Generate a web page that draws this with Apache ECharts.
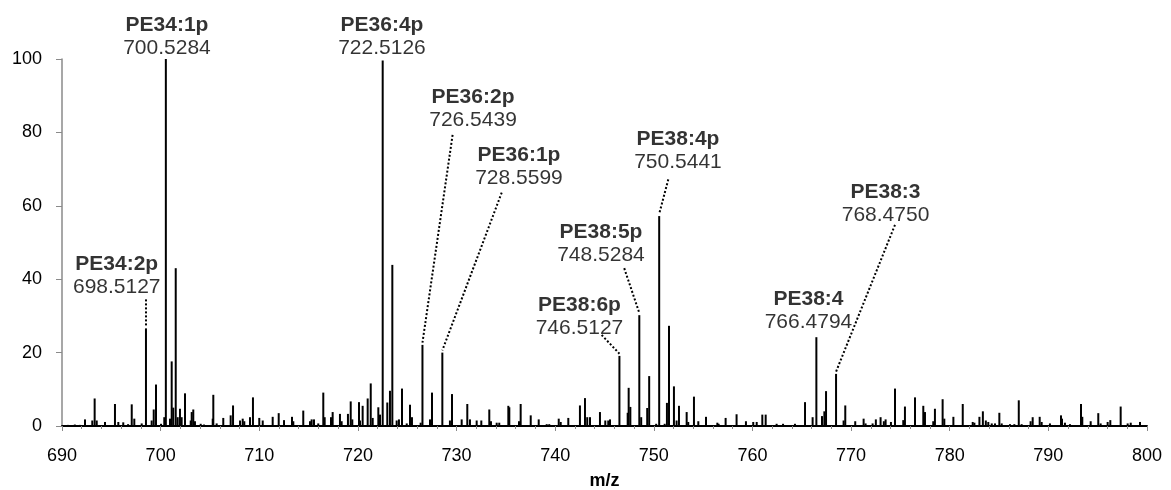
<!DOCTYPE html>
<html>
<head>
<meta charset="utf-8">
<title>PE spectrum</title>
<script src="https://cdn.jsdelivr.net/npm/echarts@6/dist/echarts.min.js"></script>
<style>
  html, body { margin: 0; padding: 0; background: #fff; }
  #chart { width: 1171px; height: 490px; }
</style>
</head>
<body>
<div id="chart"></div>
<script>
// ---- data ----
var xTicks = [690, 700, 710, 720, 730, 740, 750, 760, 770, 780, 790, 800];
var yTicks = [0, 20, 40, 60, 80, 100];

var peakMz = [
  690.6, 691.3, 691.8, 692.33, 693.07, 693.31, 693.52, 694.36, 695.37, 695.71,
  696.21, 696.7, 697.07, 697.33, 698.08, 698.5127, 699.09, 699.3, 699.53, 700.04,
  700.37, 700.5284, 700.95, 701.12, 701.28, 701.53, 701.73, 701.96, 702.13, 702.47,
  703.05, 703.15, 703.31, 703.48, 704.06, 704.4, 705.28, 705.34, 705.68, 706.35,
  707.1, 707.34, 708.05, 708.32, 708.48, 709.06, 709.36, 710.0, 710.35, 711.36,
  711.97, 712.51, 713.32, 713.45, 714.46, 715.14, 715.31, 715.55, 715.98, 716.49,
  716.63, 717.27, 717.44, 718.18, 718.35, 718.99, 719.27, 719.43, 720.11, 720.21,
  720.48, 720.99, 721.3, 721.5, 722.07, 722.24, 722.5126, 722.98, 723.25, 723.49,
  723.93, 724.16, 724.47, 724.95, 725.28, 725.48, 726.36, 726.5439, 727.31, 727.51,
  728.5599, 729.33, 729.54, 730.52, 731.09, 731.36, 732.04, 732.51, 733.32, 733.49,
  734.07, 734.33, 735.25, 735.35, 736.33, 736.5, 737.52, 738.33, 739.14, 739.4,
  740.36, 740.56, 741.33, 742.51, 743.02, 743.25, 743.53, 744.54, 745.08, 745.38,
  745.56, 746.5127, 747.35, 747.45, 747.62, 748.5284, 748.72, 749.33, 749.53, 750.24,
  750.5441, 751.1, 751.33, 751.54, 752.04, 752.31, 752.55, 753.33, 753.49, 754.07,
  754.51, 755.29, 756.44, 756.57, 757.28, 758.39, 759.34, 760.08, 760.43, 761.0,
  761.34, 762.45, 763.1, 764.31, 765.33, 766.1, 766.4794, 767.05, 767.29, 767.46,
  768.475, 769.24, 769.41, 770.42, 771.27, 771.47, 772.18, 772.51, 772.99, 773.32,
  773.5, 774.04, 774.45, 775.29, 775.46, 776.48, 777.32, 777.49, 778.33, 778.5,
  779.28, 779.45, 780.37, 781.32, 782.33, 782.5, 783.01, 783.36, 783.66, 783.91,
  784.26, 784.59, 785.03, 785.27, 786.11, 786.55, 787.0, 787.29, 788.2, 788.41,
  789.12, 789.32, 790.16, 791.28, 791.38, 791.68, 792.19, 793.31, 793.44, 794.29,
  795.06, 795.3, 796.01, 796.28, 797.33, 798.04, 798.35, 799.29
];
var peakIntensity = [
  0.3, 0.4, 0.3, 1.8, 1.5, 7.5, 1.5, 1.1, 6.0, 1.1,
  1.0, 0.5, 5.9, 2.0, 0.7, 26.6, 1.5, 4.5, 11.3, 0.6,
  2.4, 100, 2.0, 17.6, 5.0, 43.0, 2.4, 4.7, 2.4, 8.9,
  1.5, 3.8, 4.5, 1.3, 0.6, 0.4, 2.0, 8.5, 0.7, 2.2,
  2.9, 5.6, 1.5, 2.0, 1.3, 2.4, 7.8, 2.2, 1.5, 2.5,
  3.5, 1.6, 2.5, 1.3, 4.2, 1.3, 1.8, 1.8, 0.7, 9.1,
  2.4, 2.4, 3.8, 3.3, 1.3, 3.3, 6.7, 1.8, 6.5, 1.5,
  5.5, 7.5, 11.6, 2.2, 5.1, 3.1, 99.6, 6.4, 9.6, 43.9,
  1.5, 1.8, 10.2, 0.7, 5.8, 2.4, 0.9, 22.1, 1.8, 9.1,
  20.0, 1.5, 8.7, 1.8, 6.0, 1.8, 1.5, 1.5, 4.5, 1.3,
  0.9, 0.9, 5.5, 5.1, 1.3, 6.0, 2.9, 1.8, 0.5, 0.5,
  2.0, 1.1, 2.2, 5.6, 7.6, 2.4, 2.4, 3.8, 1.5, 1.5,
  1.8, 19.1, 3.6, 10.4, 5.2, 30.2, 2.4, 4.9, 13.6, 0.6,
  57.2, 0.6, 6.3, 27.3, 10.8, 1.5, 5.5, 3.8, 1.1, 8.0,
  1.3, 2.5, 0.9, 0.6, 2.2, 3.2, 1.3, 1.1, 1.1, 3.1,
  3.1, 0.6, 0.6, 0.6, 6.5, 2.4, 24.2, 2.7, 4.0, 9.5,
  14.2, 1.5, 5.6, 1.3, 2.0, 0.7, 0.7, 1.8, 2.4, 1.3,
  1.8, 1.1, 10.2, 1.6, 5.3, 7.8, 5.5, 3.8, 1.3, 4.7,
  7.3, 2.0, 2.5, 6.0, 1.1, 0.9, 2.5, 4.0, 1.5, 1.1,
  0.7, 0.7, 3.6, 0.7, 0.5, 0.5, 7.0, 0.5, 1.3, 2.4,
  2.5, 1.1, 0.7, 2.9, 2.0, 0.9, 0.5, 6.0, 2.5, 1.3,
  3.5, 0.7, 1.1, 1.6, 5.3, 0.7, 0.9, 1.1
];

// annotated species and their exact m/z
var annotationNames = ['PE34:2p', 'PE34:1p', 'PE36:4p', 'PE36:2p', 'PE36:1p',
                       'PE38:6p', 'PE38:5p', 'PE38:4p', 'PE38:4', 'PE38:3'];
var annotationMz = [698.5127, 700.5284, 722.5126, 726.5439, 728.5599,
                    746.5127, 748.5284, 750.5441, 766.4794, 768.4750];

// ---- annotation layout (label block centres / leader starts, data units) ----
var labelCenters = [
  [695.55, 40.9], [700.64, 106.0], [722.44, 106.0], [731.67, 86.4], [736.33, 70.6],
  [742.46, 29.8], [744.64, 49.6], [752.45, 74.9], [765.68, 31.3], [773.49, 60.5]
];
var leaderStarts = [
  [698.5, 34.5], null, null, [729.6, 79.3], [734.58, 63.6],
  [744.71, 24.8], [747.0, 43.0], [751.47, 67.2], null, [774.45, 54.8]
];

var FONT = '"Liberation Sans", Arial, Helvetica, sans-serif';
var AXIS_GREY = '#8a8a8a';

function intensityAt(mz) {
  var best = 0, bestD = Infinity;
  for (var i = 0; i < peakMz.length; i++) {
    var d = Math.abs(peakMz[i] - mz);
    if (d < bestD) { bestD = d; best = peakIntensity[i]; }
  }
  return best;
}

var barData = peakMz.map(function (x, i) { return [x, peakIntensity[i]]; });

var labelData = annotationNames.map(function (name, i) {
  return {
    value: labelCenters[i],
    label: { formatter: '{n|' + name + '}\n{v|' + annotationMz[i].toFixed(4) + '}' }
  };
});

var leaderData = [];
annotationMz.forEach(function (mz, i) {
  if (!leaderStarts[i]) { return; }
  leaderData.push({ coords: [leaderStarts[i], [mz, intensityAt(mz) + 0.6]] });
});

var chart = echarts.init(document.getElementById('chart'), null, { renderer: 'canvas' });
chart.setOption({
  animation: false,
  backgroundColor: '#fff',
  // v6 would otherwise shrink the grid to keep the axis name inside the canvas
  grid: { left: 62, right: 24, top: 59, bottom: 64, containLabel: false, outerBoundsMode: 'none' },
  xAxis: {
    type: 'value',
    min: xTicks[0], max: xTicks[xTicks.length - 1], interval: 10,
    name: 'm/z', nameLocation: 'middle', nameGap: 46,
    nameTextStyle: { fontFamily: FONT, fontSize: 18, fontWeight: 'bold', color: '#000' },
    axisLine: { show: true, onZero: false, lineStyle: { color: '#000', width: 2 } },
    axisTick: { show: true, length: 5, lineStyle: { color: AXIS_GREY } },
    minorTick: { show: true, splitNumber: 5, length: 3, lineStyle: { color: AXIS_GREY } },
    axisLabel: { margin: 21, fontFamily: FONT, fontSize: 18, color: '#000' },
    splitLine: { show: false }
  },
  yAxis: {
    type: 'value',
    min: yTicks[0], max: yTicks[yTicks.length - 1], interval: 20,
    axisLine: { show: true, lineStyle: { color: AXIS_GREY, width: 1.5 } },
    axisTick: { show: true, length: 6, lineStyle: { color: AXIS_GREY } },
    axisLabel: { margin: 20, fontFamily: FONT, fontSize: 18, color: '#000' },
    splitLine: { show: false }
  },
  series: [
    {
      type: 'bar',
      name: 'spectrum',
      data: barData,
      barWidth: 2,
      itemStyle: { color: '#000' },
      silent: true
    },
    {
      type: 'lines',
      coordinateSystem: 'cartesian2d',
      data: leaderData,
      clip: false,
      silent: true,
      lineStyle: { color: '#000', width: 2, type: [2, 2], opacity: 1 }
    },
    {
      type: 'scatter',
      data: labelData,
      symbolSize: 0,
      clip: false,
      silent: true,
      label: {
        show: true,
        position: 'inside',
        align: 'center',
        verticalAlign: 'middle',
        color: '#000',
        rich: {
          n: { fontFamily: FONT, fontSize: 21, fontWeight: 'bold', color: '#000', lineHeight: 23, align: 'center' },
          v: { fontFamily: FONT, fontSize: 21, color: '#000', lineHeight: 23, align: 'center' }
        }
      }
    }
  ]
});
</script>
</body>
</html>
